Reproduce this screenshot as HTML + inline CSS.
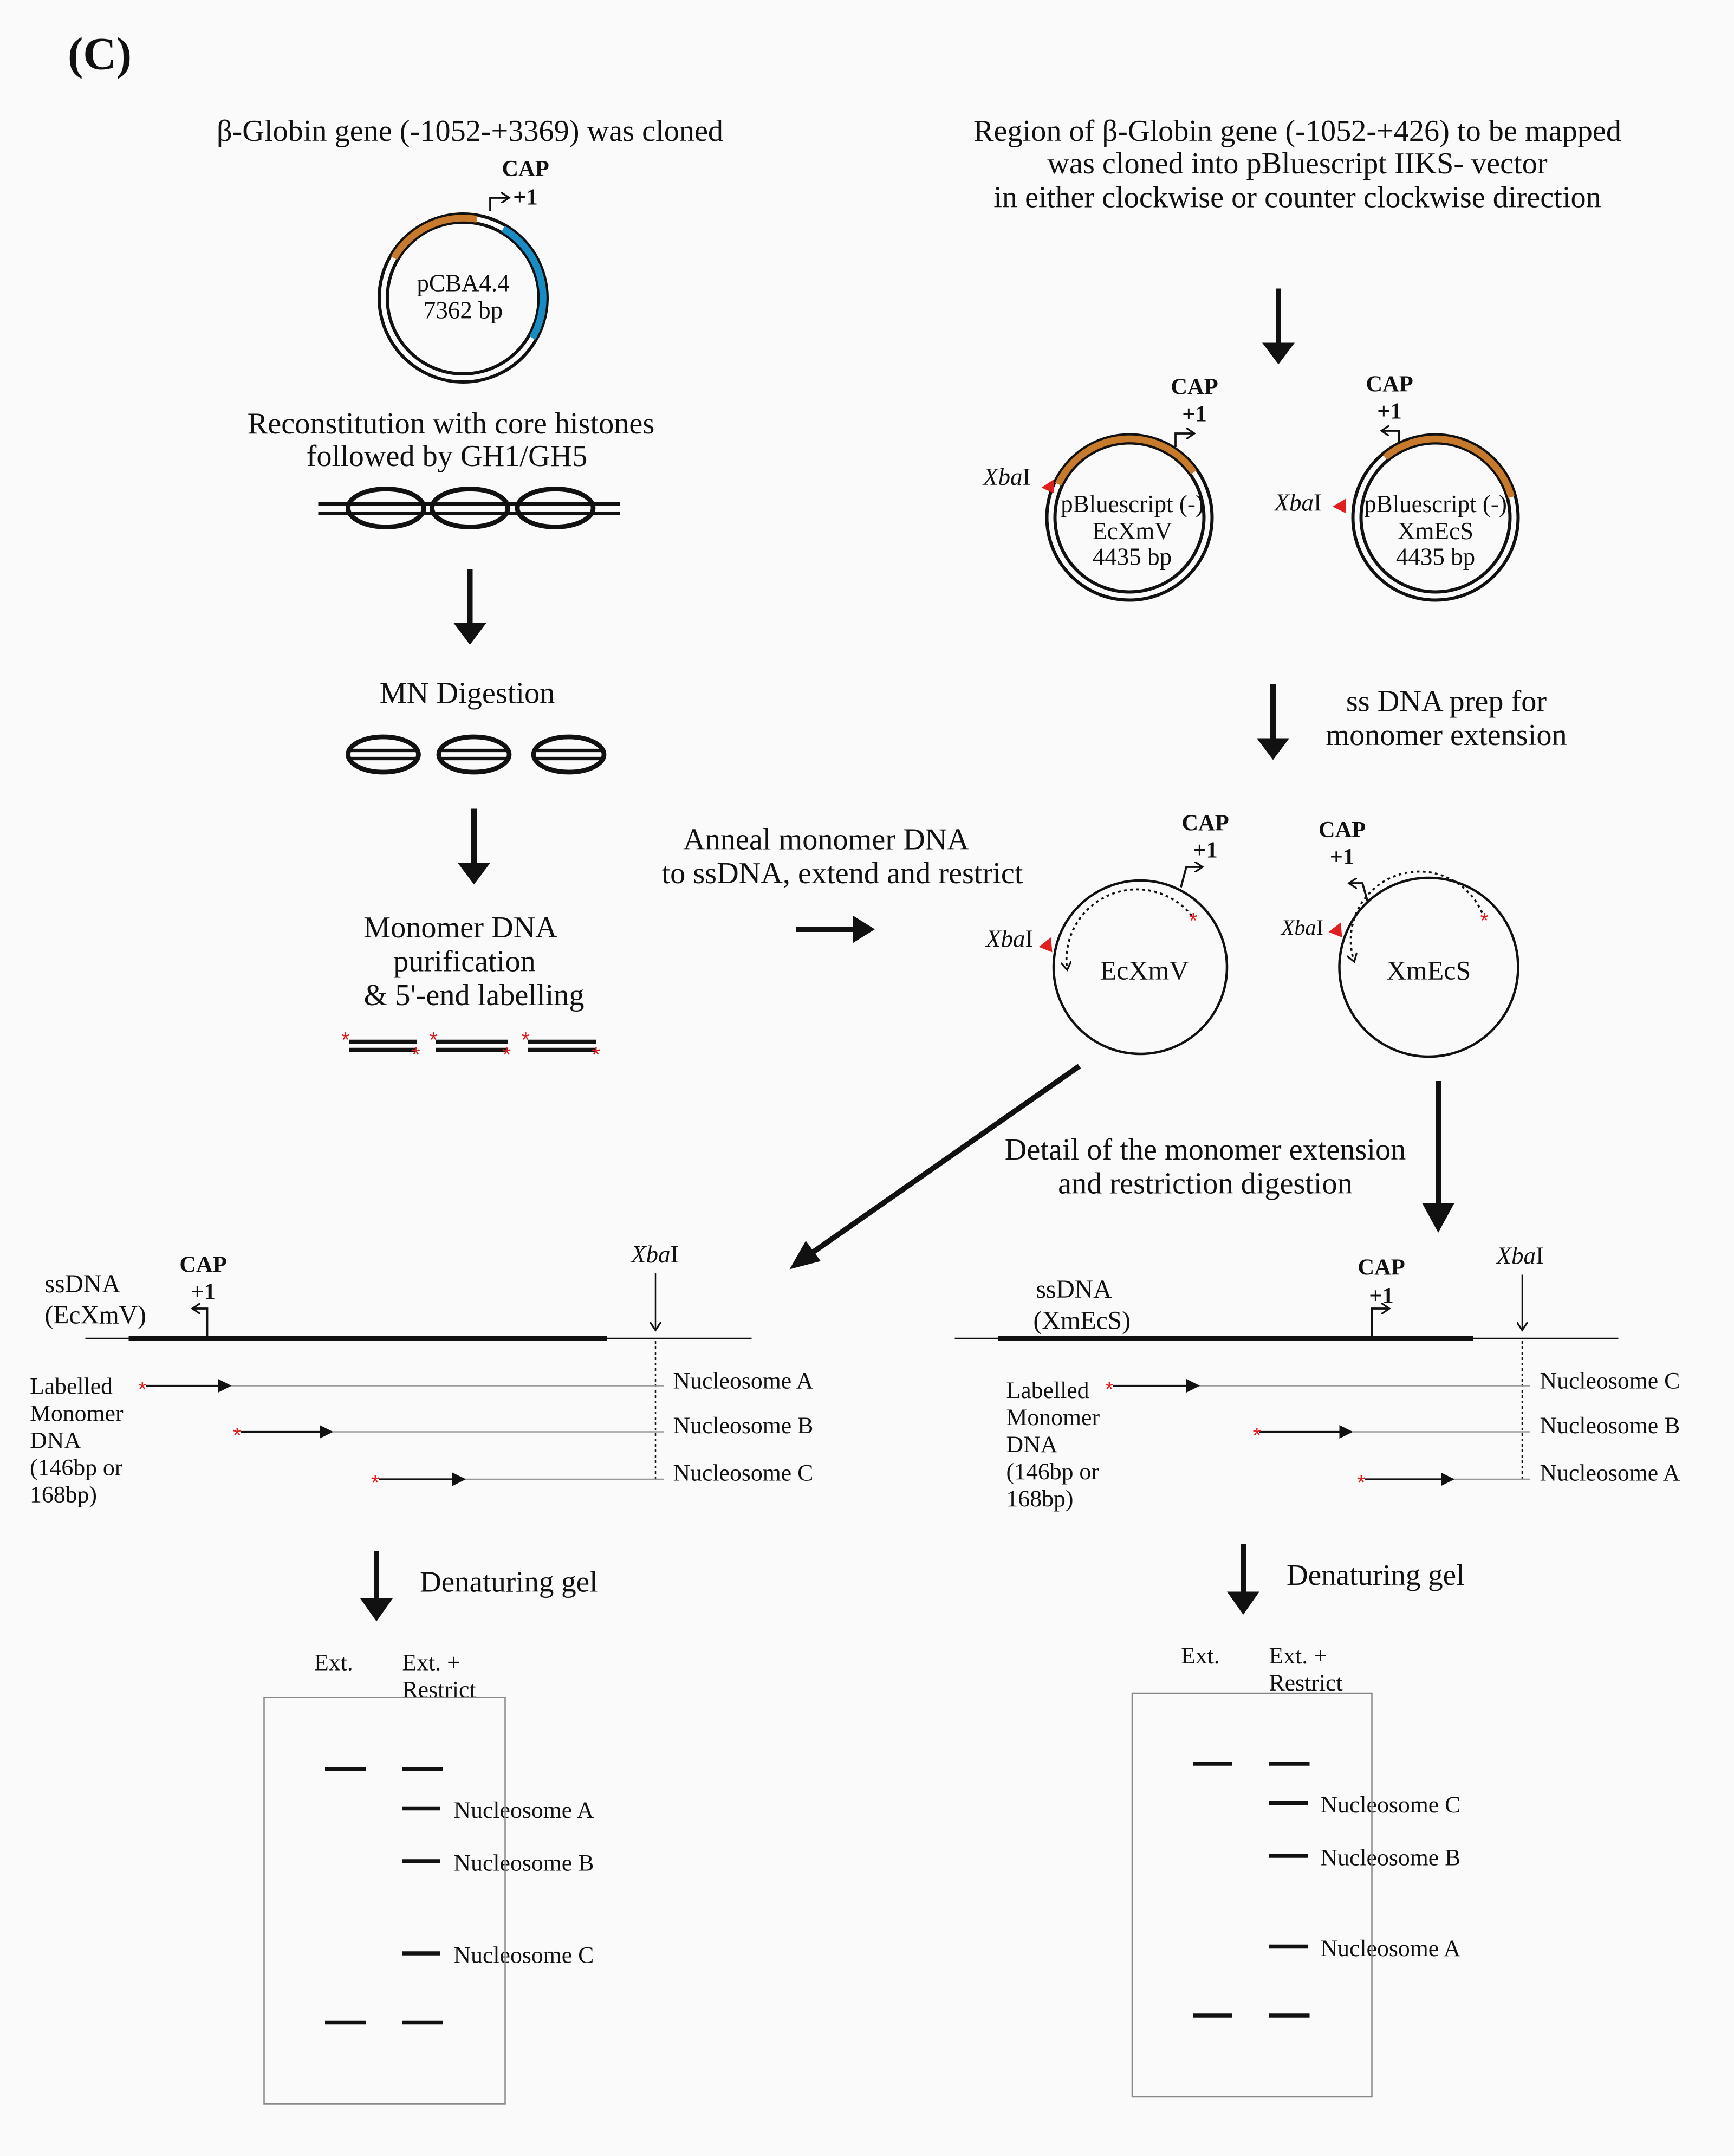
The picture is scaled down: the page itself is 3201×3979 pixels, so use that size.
<!DOCTYPE html>
<html><head><meta charset="utf-8"><style>
html,body{margin:0;padding:0;background:#fafafa}
svg{display:block}
text{font-family:"Liberation Serif",serif;fill:#111}
.ast{fill:#e02020;font-family:"Liberation Sans",sans-serif;font-size:16px}
</style></head><body>
<svg width="3201" height="3979" viewBox="0 0 1280.4 1591.6" xmlns="http://www.w3.org/2000/svg">
<defs>
<marker id="ah" markerWidth="10" markerHeight="10" refX="9" refY="5" orient="auto" markerUnits="userSpaceOnUse"><path d="M0,0 L10,5 L0,10 Z" fill="#111"/></marker>
<marker id="oa" markerWidth="8" markerHeight="8" refX="6" refY="4" orient="auto" markerUnits="userSpaceOnUse"><path d="M0,0 L6,4 L0,8" fill="none" stroke="#111" stroke-width="1.3"/></marker>
</defs>
<rect width="1280.4" height="1591.6" fill="#fafafa"/>
<text x="50" y="51" font-size="34" font-weight="bold">(C)</text>

<g font-size="22.5" text-anchor="middle">
<text x="347" y="104">β-Globin gene (-1052-+3369) was cloned</text>
<text x="333" y="320">Reconstitution with core histones</text>
<text x="330" y="344">followed by GH1/GH5</text>
<text x="345" y="519">MN Digestion</text>
<text x="340" y="692">Monomer DNA</text>
<text x="343" y="717">purification</text>
<text x="350" y="742">&amp; 5'-end labelling</text>
</g>
<g font-size="17" font-weight="bold" text-anchor="middle"><text x="388" y="130">CAP</text><text x="388" y="151">+1</text></g>
<path d="M362,156 V146 H376" fill="none" stroke="#111" stroke-width="1.5" marker-end="url(#oa)"/>
<circle cx="342" cy="220" r="62" fill="none" stroke="#111" stroke-width="2.4"/>
<circle cx="342" cy="220" r="56" fill="none" stroke="#111" stroke-width="2.4"/>
<path d="M290.9,190.5 A59,59 0 0 1 352.2,161.9" fill="none" stroke="#c87a2c" stroke-width="5"/>
<path d="M371.5,168.9 A59,59 0 0 1 393.1,249.5" fill="none" stroke="#1a8cc4" stroke-width="5"/>
<g font-size="18" text-anchor="middle"><text x="342" y="215">pCBA4.4</text><text x="342" y="235">7362 bp</text></g>
<line x1="235" y1="372" x2="458" y2="372" stroke="#111" stroke-width="2.5"/>
<line x1="235" y1="379" x2="458" y2="379" stroke="#111" stroke-width="2.5"/>
<g fill="none" stroke="#111" stroke-width="3.5">
<ellipse cx="285" cy="375" rx="28" ry="14"/><ellipse cx="347" cy="375" rx="28" ry="14"/><ellipse cx="410" cy="375" rx="28" ry="14"/>
<ellipse cx="283" cy="557" rx="26" ry="13"/><ellipse cx="350" cy="557" rx="26" ry="13"/><ellipse cx="420" cy="557" rx="26" ry="13"/>
</g>
<g stroke="#111" stroke-width="2.5">
<line x1="257" y1="554" x2="309" y2="554"/><line x1="257" y1="560" x2="309" y2="560"/>
<line x1="324" y1="554" x2="376" y2="554"/><line x1="324" y1="560" x2="376" y2="560"/>
<line x1="394" y1="554" x2="446" y2="554"/><line x1="394" y1="560" x2="446" y2="560"/>
<line x1="258" y1="769" x2="308" y2="769" stroke-width="3"/><line x1="258" y1="775" x2="308" y2="775" stroke-width="3"/>
<line x1="322" y1="769" x2="375" y2="769" stroke-width="3"/><line x1="322" y1="775" x2="375" y2="775" stroke-width="3"/>
<line x1="390" y1="769" x2="440" y2="769" stroke-width="3"/><line x1="390" y1="775" x2="440" y2="775" stroke-width="3"/>
</g>
<g><text class="ast" x="252" y="773">*</text><text class="ast" x="304" y="784">*</text><text class="ast" x="317" y="773">*</text><text class="ast" x="371" y="784">*</text><text class="ast" x="385" y="773">*</text><text class="ast" x="437" y="784">*</text></g>
<g stroke="#111" stroke-width="4" fill="none">
<line x1="347" y1="420" x2="347" y2="462"/><line x1="350" y1="597" x2="350" y2="639"/>
<line x1="944" y1="213" x2="944" y2="255"/><line x1="940" y1="505" x2="940" y2="547"/>
<line x1="588" y1="686" x2="632" y2="686"/>
<line x1="797" y1="787" x2="598" y2="926"/>
<line x1="1062" y1="798" x2="1062" y2="892"/>
<line x1="278" y1="1145" x2="278" y2="1182"/><line x1="918" y1="1140" x2="918" y2="1177"/>
</g>
<g fill="#111">
<path d="M335,460 L359,460 L347,476 Z"/><path d="M338,637 L362,637 L350,653 Z"/>
<path d="M932,253 L956,253 L944,269 Z"/><path d="M928,545 L952,545 L940,561 Z"/>
<path d="M630,676 L630,696 L646,686 Z"/>
<path d="M583,937 L595,916 L606,931 Z"/>
<path d="M1050,888 L1074,888 L1062,910 Z"/>
<path d="M266,1180 L290,1180 L278,1197 Z"/><path d="M906,1175 L930,1175 L918,1192 Z"/>
</g>

<g font-size="22.5" text-anchor="middle">
<text x="958" y="104">Region of β-Globin gene (-1052-+426) to be mapped</text>
<text x="958" y="128">was cloned into pBluescript IIKS- vector</text>
<text x="958" y="153">in either clockwise or counter clockwise direction</text>
<text x="1068" y="525">ss DNA prep for</text>
<text x="1068" y="550">monomer extension</text>
<text x="610" y="627">Anneal monomer DNA</text>
<text x="622" y="652">to ssDNA, extend and restrict</text>
<text x="890" y="856">Detail of the monomer extension</text>
<text x="890" y="881">and restriction digestion</text>
</g>
<g font-size="17" font-weight="bold" text-anchor="middle">
<text x="882" y="291">CAP</text><text x="882" y="311">+1</text>
<text x="1026" y="289">CAP</text><text x="1026" y="309">+1</text>
<text x="890" y="613">CAP</text><text x="890" y="633">+1</text>
<text x="991" y="618">CAP</text><text x="991" y="638">+1</text>
<text x="150" y="939">CAP</text><text x="150" y="959">+1</text>
<text x="1020" y="941">CAP</text><text x="1020" y="962">+1</text>
</g>
<path d="M868,330 V320 H882" fill="none" stroke="#111" stroke-width="1.5" marker-end="url(#oa)"/>
<path d="M1033,328 V318 H1020" fill="none" stroke="#111" stroke-width="1.5" marker-end="url(#oa)"/>
<path d="M872,655 L876,640 H888" fill="none" stroke="#111" stroke-width="1.5" marker-end="url(#oa)"/>
<path d="M1010,666 L1006,652 H996" fill="none" stroke="#111" stroke-width="1.5" marker-end="url(#oa)"/>
<path d="M153,986 V966 H142" fill="none" stroke="#111" stroke-width="1.5" marker-end="url(#oa)"/>
<path d="M1013,986 V966 H1026" fill="none" stroke="#111" stroke-width="1.5" marker-end="url(#oa)"/>

<g fill="none" stroke="#111" stroke-width="2.4">
<circle cx="834" cy="382" r="61"/><circle cx="834" cy="382" r="55"/>
<circle cx="1060" cy="382" r="61"/><circle cx="1060" cy="382" r="55"/>
<circle cx="842" cy="714" r="64" stroke-width="1.8"/><circle cx="1055" cy="714" r="66" stroke-width="1.8"/>
</g>
<path d="M781.4,357.5 A58,58 0 0 1 881.5,348.7" fill="none" stroke="#c87a2c" stroke-width="5"/>
<path d="M1022.7,337.6 A58,58 0 0 1 1116,367" fill="none" stroke="#c87a2c" stroke-width="5"/>
<g font-size="18" text-anchor="middle">
<text x="836" y="378">pBluescript (-)</text><text x="836" y="398">EcXmV</text><text x="836" y="417">4435 bp</text>
<text x="1060" y="378">pBluescript (-)</text><text x="1060" y="398">XmEcS</text><text x="1060" y="417">4435 bp</text>
<text x="845" y="723" font-size="20">EcXmV</text><text x="1055" y="723" font-size="20">XmEcS</text>
</g>
<g font-size="18" font-style="italic">
<text x="726" y="358">Xba<tspan font-style="normal">I</tspan></text>
<text x="941" y="377">Xba<tspan font-style="normal">I</tspan></text>
<text x="728" y="699">Xba<tspan font-style="normal">I</tspan></text>
<text x="946" y="690" font-size="16">Xba<tspan font-style="normal">I</tspan></text>
<text x="466" y="932">Xba<tspan font-style="normal">I</tspan></text>
<text x="1105" y="933">Xba<tspan font-style="normal">I</tspan></text>
</g>
<g fill="#e02020">
<path d="M769,360 L778,354 L778,364 Z"/><path d="M984,374 L994,368 L994,379 Z"/>
<path d="M767,699 L776,692 L777,703 Z"/><path d="M981,688 L990,681 L991,692 Z"/>
</g>
<path d="M880,676 A52,52 0 0 0 788,716" fill="none" stroke="#111" stroke-width="1.5" stroke-dasharray="2,2.5" marker-end="url(#oa)"/>
<path d="M1096,678 A50,50 0 0 0 1000,710" fill="none" stroke="#111" stroke-width="1.5" stroke-dasharray="2,2.5" marker-end="url(#oa)"/>
<g><text class="ast" x="878" y="685">*</text><text class="ast" x="1093" y="685">*</text></g>

<g font-size="19"><text x="33" y="954">ssDNA</text><text x="33" y="977">(EcXmV)</text>
<text x="765" y="958">ssDNA</text><text x="763" y="981">(XmEcS)</text></g>
<line x1="63" y1="988" x2="555" y2="988" stroke="#111" stroke-width="1"/>
<line x1="95" y1="988" x2="448" y2="988" stroke="#111" stroke-width="4"/>
<line x1="484" y1="940" x2="484" y2="982" stroke="#111" stroke-width="1" marker-end="url(#oa)"/>
<line x1="484" y1="990" x2="484" y2="1092" stroke="#111" stroke-width="1" stroke-dasharray="2,2"/>
<line x1="705" y1="988" x2="1195" y2="988" stroke="#111" stroke-width="1"/>
<line x1="737" y1="988" x2="1088" y2="988" stroke="#111" stroke-width="4"/>
<line x1="1124" y1="941" x2="1124" y2="982" stroke="#111" stroke-width="1" marker-end="url(#oa)"/>
<line x1="1124" y1="990" x2="1124" y2="1092" stroke="#111" stroke-width="1" stroke-dasharray="2,2"/>
<g font-size="17.5">
<text x="22" y="1029">Labelled</text><text x="22" y="1049">Monomer</text><text x="22" y="1069">DNA</text><text x="22" y="1089">(146bp or</text><text x="22" y="1109">168bp)</text>
<text x="743" y="1032">Labelled</text><text x="743" y="1052">Monomer</text><text x="743" y="1072">DNA</text><text x="743" y="1092">(146bp or</text><text x="743" y="1112">168bp)</text>
<text x="497" y="1025">Nucleosome A</text><text x="497" y="1058">Nucleosome B</text><text x="497" y="1093">Nucleosome C</text>
<text x="1137" y="1025">Nucleosome C</text><text x="1137" y="1058">Nucleosome B</text><text x="1137" y="1093">Nucleosome A</text>
<text x="232" y="1233">Ext.</text><text x="297" y="1233">Ext. +</text><text x="297" y="1253">Restrict</text>
<text x="872" y="1228">Ext.</text><text x="937" y="1228">Ext. +</text><text x="937" y="1248">Restrict</text>
<text x="335" y="1342">Nucleosome A</text><text x="335" y="1381">Nucleosome B</text><text x="335" y="1449">Nucleosome C</text>
<text x="975" y="1338">Nucleosome C</text><text x="975" y="1377">Nucleosome B</text><text x="975" y="1444">Nucleosome A</text>
</g>
<g stroke="#999" stroke-width="1">
<line x1="108" y1="1023" x2="490" y2="1023"/><line x1="178" y1="1057" x2="490" y2="1057"/><line x1="280" y1="1092" x2="490" y2="1092"/>
<line x1="822" y1="1023" x2="1130" y2="1023"/><line x1="930" y1="1057" x2="1130" y2="1057"/><line x1="1008" y1="1092" x2="1130" y2="1092"/>
</g>
<g stroke="#111" stroke-width="1.3">
<line x1="108" y1="1023" x2="170" y2="1023" marker-end="url(#ah)"/><line x1="178" y1="1057" x2="245" y2="1057" marker-end="url(#ah)"/><line x1="280" y1="1092" x2="343" y2="1092" marker-end="url(#ah)"/>
<line x1="822" y1="1023" x2="885" y2="1023" marker-end="url(#ah)"/><line x1="930" y1="1057" x2="998" y2="1057" marker-end="url(#ah)"/><line x1="1008" y1="1092" x2="1073" y2="1092" marker-end="url(#ah)"/>
</g>
<g><text class="ast" x="102" y="1031">*</text><text class="ast" x="172" y="1065">*</text><text class="ast" x="274" y="1100">*</text><text class="ast" x="816" y="1031">*</text><text class="ast" x="925" y="1065">*</text><text class="ast" x="1002" y="1100">*</text></g>
<g font-size="22"><text x="310" y="1175">Denaturing gel</text><text x="950" y="1170">Denaturing gel</text></g>
<rect x="195" y="1253" width="178" height="300" fill="none" stroke="#888" stroke-width="1"/>
<rect x="836" y="1250" width="177" height="298" fill="none" stroke="#888" stroke-width="1"/>
<g stroke="#111" stroke-width="3">
<line x1="240" y1="1306" x2="270" y2="1306"/><line x1="297" y1="1306" x2="327" y2="1306"/>
<line x1="297" y1="1335" x2="325" y2="1335"/><line x1="297" y1="1374" x2="325" y2="1374"/><line x1="297" y1="1442" x2="325" y2="1442"/>
<line x1="240" y1="1493" x2="270" y2="1493"/><line x1="297" y1="1493" x2="327" y2="1493"/>
<line x1="881" y1="1302" x2="910" y2="1302"/><line x1="937" y1="1302" x2="967" y2="1302"/>
<line x1="937" y1="1331" x2="966" y2="1331"/><line x1="937" y1="1370" x2="966" y2="1370"/><line x1="937" y1="1437" x2="966" y2="1437"/>
<line x1="881" y1="1488" x2="910" y2="1488"/><line x1="937" y1="1488" x2="967" y2="1488"/>
</g>
</svg>
</body></html>
